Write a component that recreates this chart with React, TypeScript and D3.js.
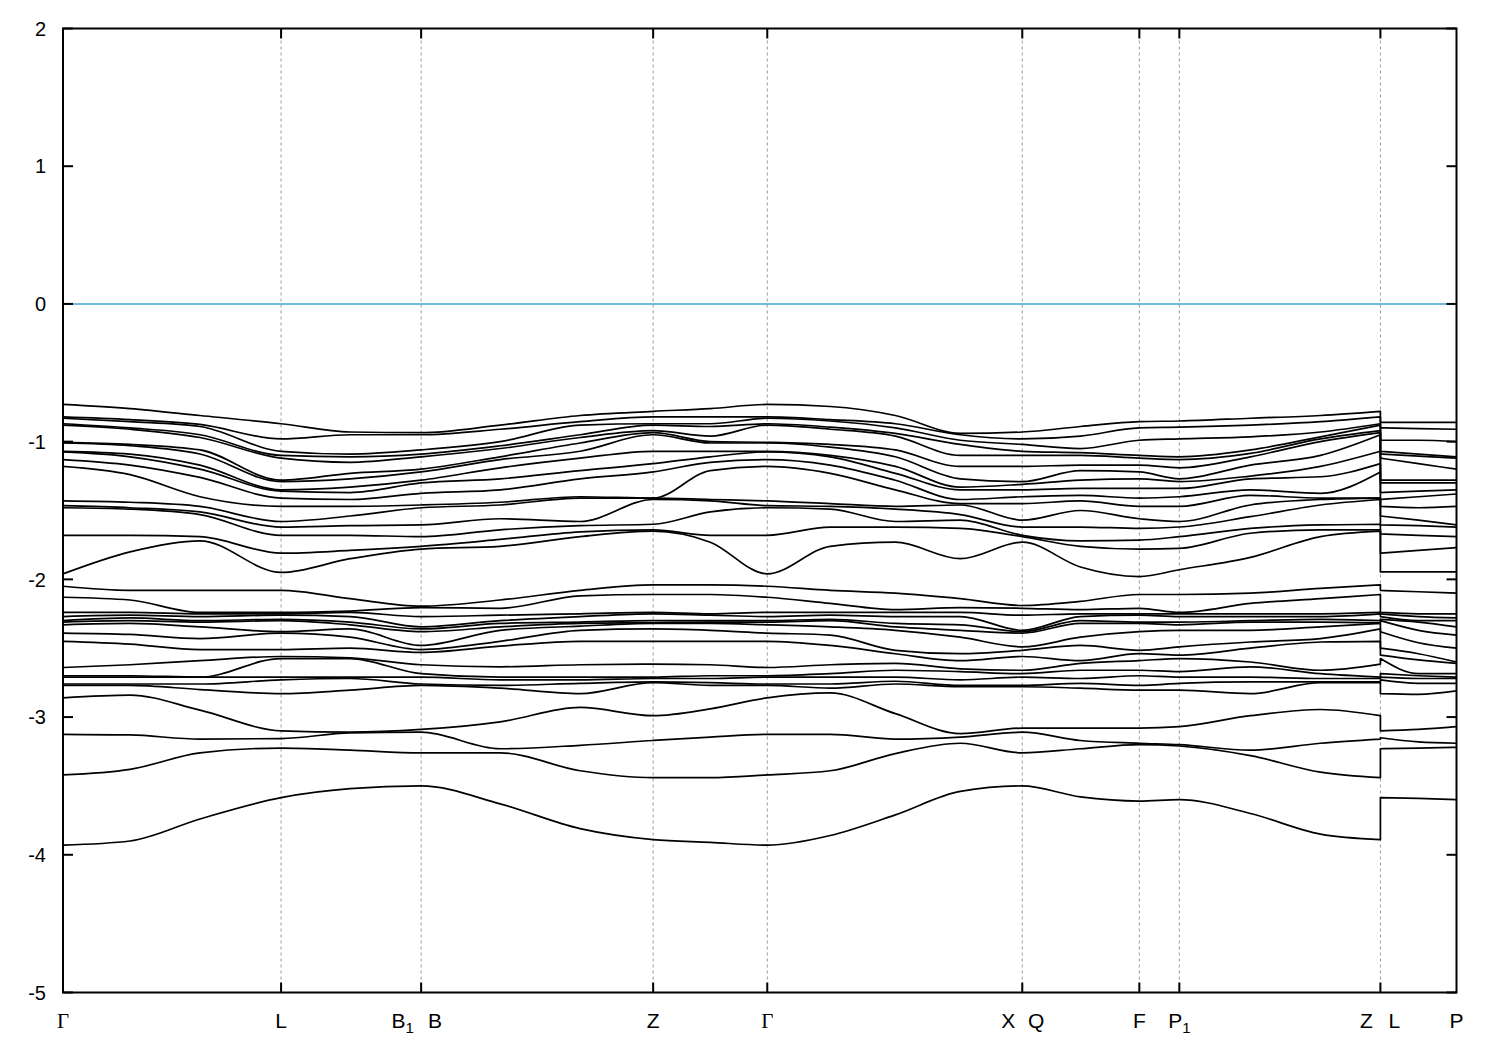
import React from "react";
import * as d3 from "d3";

// k-path positions (fraction of total path length)
const kColumns = [0, 0.0481, 0.0983, 0.1565, 0.206, 0.257, 0.3137, 0.3711, 0.4235, 0.4645, 0.5054, 0.5506, 0.5973, 0.6439, 0.6884, 0.7301, 0.7724, 0.8011, 0.8521, 0.9024, 0.9454];
const kColumnsLP = [0.9454, 0.9727, 1.0];

const kPoints = [0, 0.1565, 0.257, 0.4235, 0.5054, 0.6884, 0.7724, 0.8011, 0.9454, 1.0];
const kLabels = ["Γ", "L", "B_1|B", "Z", "Γ", "X|Q", "F", "P_1", "Z|L", "P"];

const yTicks = [-5, -4, -3, -2, -1, 0, 1, 2];
const fermiLevel = 0;

// Upper band group (energies in eV), one row per k column, 16 bands each
const upperGroup = [
  [-0.73, -0.82, -0.83, -0.87, -0.88, -1.005, -1.01, -1.07, -1.075, -1.13, -1.18, -1.43, -1.465, -1.48, -1.68, -1.96],
  [-0.76, -0.84, -0.855, -0.9, -0.91, -1.02, -1.03, -1.09, -1.11, -1.17, -1.24, -1.44, -1.48, -1.49, -1.68, -1.8],
  [-0.81, -0.875, -0.89, -0.95, -0.97, -1.06, -1.09, -1.17, -1.2, -1.26, -1.4, -1.47, -1.51, -1.53, -1.69, -1.72],
  [-0.87, -0.98, -1.07, -1.1, -1.12, -1.28, -1.29, -1.35, -1.36, -1.41, -1.47, -1.58, -1.62, -1.68, -1.81, -1.95],
  [-0.93, -0.95, -1.09, -1.11, -1.15, -1.23, -1.27, -1.33, -1.37, -1.42, -1.47, -1.54, -1.61, -1.68, -1.79, -1.85],
  [-0.935, -0.95, -1.06, -1.09, -1.11, -1.2, -1.22, -1.28, -1.3, -1.375, -1.46, -1.48, -1.605, -1.69, -1.76, -1.78],
  [-0.88, -0.91, -1.0, -1.03, -1.05, -1.11, -1.13, -1.19, -1.27, -1.35, -1.44, -1.46, -1.56, -1.64, -1.71, -1.76],
  [-0.81, -0.855, -0.88, -0.95, -0.97, -1.01, -1.07, -1.12, -1.21, -1.27, -1.4, -1.41, -1.58, -1.61, -1.655, -1.69],
  [-0.78, -0.82, -0.87, -0.88, -0.92, -0.935, -0.95, -1.07, -1.16, -1.22, -1.41, -1.41, -1.42, -1.6, -1.64, -1.65],
  [-0.76, -0.82, -0.87, -0.89, -0.96, -1.0, -1.01, -1.07, -1.11, -1.15, -1.21, -1.42, -1.43, -1.51, -1.68, -1.73],
  [-0.73, -0.82, -0.83, -0.87, -0.88, -1.005, -1.01, -1.07, -1.075, -1.13, -1.18, -1.43, -1.465, -1.48, -1.68, -1.96],
  [-0.745, -0.84, -0.85, -0.895, -0.91, -1.02, -1.04, -1.1, -1.11, -1.17, -1.23, -1.45, -1.47, -1.49, -1.62, -1.76],
  [-0.81, -0.87, -0.9, -0.94, -0.96, -1.06, -1.11, -1.18, -1.23, -1.28, -1.35, -1.47, -1.49, -1.58, -1.62, -1.73],
  [-0.94, -0.95, -0.99, -1.02, -1.1, -1.18, -1.27, -1.33, -1.35, -1.42, -1.45, -1.46, -1.53, -1.57, -1.63, -1.85],
  [-0.93, -0.98, -1.02, -1.07, -1.1, -1.18, -1.29, -1.31, -1.35, -1.4, -1.45, -1.57, -1.62, -1.68, -1.69, -1.73],
  [-0.89, -0.96, -1.05, -1.08, -1.1, -1.17, -1.21, -1.28, -1.34, -1.39, -1.43, -1.5, -1.62, -1.72, -1.76, -1.91],
  [-0.855, -0.9, -0.99, -1.1, -1.12, -1.17, -1.22, -1.27, -1.34, -1.41, -1.47, -1.56, -1.63, -1.715, -1.78, -1.98],
  [-0.85, -0.895, -0.98, -1.11, -1.13, -1.19, -1.27, -1.29, -1.34, -1.4, -1.47, -1.58, -1.62, -1.69, -1.775, -1.93],
  [-0.83, -0.88, -0.965, -1.06, -1.085, -1.11, -1.17, -1.25, -1.27, -1.35, -1.39, -1.46, -1.545, -1.63, -1.665, -1.84],
  [-0.81, -0.855, -0.93, -0.965, -0.98, -1.0, -1.1, -1.18, -1.255, -1.375, -1.41, -1.42, -1.46, -1.605, -1.64, -1.69],
  [-0.78, -0.82, -0.87, -0.88, -0.92, -0.935, -0.95, -1.07, -1.16, -1.22, -1.41, -1.41, -1.42, -1.6, -1.64, -1.65],
];
const upperGroupLP = [
  [-0.86, -0.9, -0.99, -1.07, -1.09, -1.12, -1.28, -1.3, -1.37, -1.42, -1.47, -1.54, -1.605, -1.67, -1.81, -1.945],
  [-0.86, -0.905, -0.99, -1.09, -1.105, -1.16, -1.28, -1.3, -1.36, -1.4, -1.48, -1.57, -1.61, -1.68, -1.79, -1.945],
  [-0.86, -0.91, -1.0, -1.11, -1.12, -1.2, -1.28, -1.3, -1.35, -1.38, -1.47, -1.605, -1.62, -1.69, -1.77, -1.945],
];

// Middle/lower band group, 17 bands each
const lowerGroup = [
  [-2.05, -2.13, -2.24, -2.27, -2.3, -2.31, -2.33, -2.39, -2.45, -2.64, -2.7, -2.71, -2.76, -2.77, -2.86, -3.125, -3.42],
  [-2.08, -2.15, -2.24, -2.26, -2.28, -2.3, -2.32, -2.4, -2.47, -2.62, -2.7, -2.71, -2.76, -2.77, -2.84, -3.13, -3.38],
  [-2.08, -2.24, -2.25, -2.27, -2.3, -2.31, -2.345, -2.43, -2.51, -2.59, -2.71, -2.71, -2.76, -2.8, -2.95, -3.16, -3.26],
  [-2.08, -2.24, -2.25, -2.26, -2.29, -2.3, -2.38, -2.39, -2.51, -2.56, -2.575, -2.71, -2.73, -2.83, -3.1, -3.156, -3.225],
  [-2.14, -2.23, -2.24, -2.27, -2.31, -2.33, -2.36, -2.42, -2.5, -2.57, -2.575, -2.71, -2.72, -2.805, -3.11, -3.115, -3.24],
  [-2.195, -2.205, -2.27, -2.345, -2.36, -2.38, -2.48, -2.51, -2.53, -2.62, -2.685, -2.71, -2.76, -2.77, -3.09, -3.11, -3.26],
  [-2.15, -2.21, -2.26, -2.3, -2.32, -2.345, -2.37, -2.45, -2.485, -2.635, -2.71, -2.73, -2.77, -2.79, -3.035, -3.23, -3.26],
  [-2.08, -2.12, -2.25, -2.27, -2.31, -2.32, -2.34, -2.37, -2.45, -2.62, -2.71, -2.73, -2.755, -2.83, -2.93, -3.205, -3.39],
  [-2.04, -2.11, -2.24, -2.25, -2.3, -2.315, -2.32, -2.36, -2.45, -2.615, -2.71, -2.72, -2.745, -2.75, -2.99, -3.17, -3.44],
  [-2.04, -2.11, -2.25, -2.26, -2.3, -2.31, -2.32, -2.37, -2.45, -2.62, -2.7, -2.72, -2.75, -2.77, -2.94, -3.145, -3.44],
  [-2.05, -2.13, -2.24, -2.27, -2.3, -2.31, -2.33, -2.39, -2.45, -2.64, -2.7, -2.71, -2.76, -2.77, -2.86, -3.125, -3.42],
  [-2.08, -2.175, -2.24, -2.26, -2.29, -2.3, -2.345, -2.405, -2.48, -2.62, -2.685, -2.71, -2.76, -2.79, -2.825, -3.125, -3.39],
  [-2.1, -2.22, -2.24, -2.27, -2.32, -2.345, -2.37, -2.515, -2.54, -2.61, -2.66, -2.71, -2.74, -2.76, -2.975, -3.16, -3.265],
  [-2.14, -2.205, -2.24, -2.27, -2.33, -2.37, -2.42, -2.54, -2.59, -2.65, -2.67, -2.73, -2.77, -2.78, -3.12, -3.145, -3.19],
  [-2.19, -2.21, -2.26, -2.37, -2.38, -2.39, -2.49, -2.515, -2.56, -2.66, -2.685, -2.71, -2.77, -2.78, -3.08, -3.11, -3.26],
  [-2.16, -2.22, -2.25, -2.27, -2.3, -2.32, -2.42, -2.48, -2.59, -2.61, -2.66, -2.72, -2.755, -2.79, -3.08, -3.17, -3.23],
  [-2.11, -2.21, -2.25, -2.26, -2.31, -2.32, -2.38, -2.515, -2.54, -2.59, -2.66, -2.7, -2.77, -2.805, -3.08, -3.19, -3.2],
  [-2.11, -2.24, -2.25, -2.27, -2.31, -2.33, -2.37, -2.49, -2.55, -2.575, -2.67, -2.71, -2.755, -2.805, -3.07, -3.2, -3.21],
  [-2.1, -2.175, -2.25, -2.27, -2.3, -2.31, -2.37, -2.455, -2.5, -2.6, -2.635, -2.71, -2.745, -2.83, -2.99, -3.24, -3.28],
  [-2.065, -2.14, -2.25, -2.27, -2.29, -2.31, -2.345, -2.43, -2.455, -2.66, -2.685, -2.72, -2.745, -2.75, -2.945, -3.19, -3.4],
  [-2.04, -2.11, -2.24, -2.25, -2.3, -2.315, -2.32, -2.36, -2.45, -2.615, -2.71, -2.72, -2.745, -2.75, -2.99, -3.16, -3.44],
];
const lowerGroupLP = [
  [-2.08, -2.24, -2.25, -2.27, -2.29, -2.3, -2.38, -2.5, -2.55, -2.575, -2.685, -2.71, -2.73, -2.83, -3.1, -3.15, -3.23],
  [-2.09, -2.25, -2.27, -2.3, -2.31, -2.37, -2.46, -2.54, -2.585, -2.685, -2.7, -2.72, -2.755, -2.835, -3.09, -3.18, -3.225],
  [-2.1, -2.25, -2.28, -2.3, -2.345, -2.405, -2.5, -2.6, -2.61, -2.685, -2.71, -2.72, -2.755, -2.81, -3.07, -3.19, -3.22],
];

// Deepest band
const deepBand = [-3.93, -3.9, -3.74, -3.585, -3.52, -3.5, -3.63, -3.81, -3.89, -3.91, -3.93, -3.86, -3.71, -3.54, -3.5, -3.58, -3.61, -3.6, -3.7, -3.85, -3.89];
const deepBandLP = [-3.585, -3.59, -3.6];

const W = 1500;
const H = 1050;
const LEFT = 63;
const RIGHT = 1456.5;
const TOP = 28.5;
const BOTTOM = 992.5;

function bandsFrom(cols: number[][]): number[][] {
  const n = d3.min(cols, (c) => c.length) ?? 0;
  return d3.range(n).map((i) => cols.map((c) => c[i]));
}

function Label({ x, y, text }: { x: number; y: number; text: string }) {
  const isGamma = text === "Γ";
  const parts = text.split("_1");
  return (
    <text
      x={x}
      y={y}
      textAnchor="middle"
      fontFamily={isGamma ? "Liberation Serif, DejaVu Serif, serif" : "Liberation Sans, Arial, sans-serif"}
      fontSize={21}
      fill="#000"
    >
      {parts[0]}
      {parts.length > 1 && (
        <>
          <tspan fontSize={15} dy={5}>1</tspan>
          <tspan dy={-5}>{parts[1]}</tspan>
        </>
      )}
    </text>
  );
}

export default function App() {
  const x = d3.scaleLinear().domain([0, 1]).range([LEFT, RIGHT]);
  const y = d3.scaleLinear().domain([-5, 2]).range([BOTTOM, TOP]);

  const line = d3
    .line<[number, number]>()
    .x((d) => x(d[0]))
    .y((d) => y(d[1]))
    .curve(d3.curveMonotoneX);

  const mkPath = (main: number[], lp: number[]) => {
    const a = line(main.map((v, i) => [kColumns[i], v] as [number, number])) || "";
    const b = line(lp.map((v, i) => [kColumnsLP[i], v] as [number, number])) || "";
    return a + b.replace(/^M/, "L");
  };

  const upper = bandsFrom(upperGroup);
  const upperLP = bandsFrom(upperGroupLP);
  const lower = bandsFrom(lowerGroup);
  const lowerLP = bandsFrom(lowerGroupLP);

  const paths: string[] = [];
  upper.forEach((b, i) => paths.push(mkPath(b, upperLP[i])));
  lower.forEach((b, i) => paths.push(mkPath(b, lowerLP[i])));
  paths.push(mkPath(deepBand, deepBandLP));

  const interior = kPoints.filter((k) => k > 0 && k < 1);

  return (
    <svg
      width={W}
      height={H}
      viewBox={`0 0 ${W} ${H}`}
      style={{ position: "absolute", left: 0, top: 0, background: "#fff" }}
    >
      <rect x={0} y={0} width={W} height={H} fill="#fff" />
      {/* grid */}
      {interior.map((k, i) => (
        <line
          key={"g" + i}
          x1={x(k)}
          x2={x(k)}
          y1={TOP}
          y2={BOTTOM}
          stroke="#999"
          strokeWidth={1}
          strokeDasharray="3,3"
        />
      ))}
      {/* Fermi level */}
      <line x1={LEFT} x2={RIGHT} y1={y(fermiLevel)} y2={y(fermiLevel)} stroke="#3fa3dc" strokeWidth={1.5} />
      {/* bands */}
      <g fill="none" stroke="#000" strokeWidth={1.7} strokeLinejoin="round">
        {paths.map((p, i) => (
          <path key={"b" + i} d={p} />
        ))}
      </g>
      {/* frame */}
      <rect x={LEFT} y={TOP} width={RIGHT - LEFT} height={BOTTOM - TOP} fill="none" stroke="#000" strokeWidth={2} />
      {/* y ticks */}
      {yTicks.map((t) => (
        <g key={"y" + t}>
          <line x1={LEFT} x2={LEFT + 10} y1={y(t)} y2={y(t)} stroke="#000" strokeWidth={2} />
          <line x1={RIGHT - 10} x2={RIGHT} y1={y(t)} y2={y(t)} stroke="#000" strokeWidth={2} />
          <text
            x={46}
            y={y(t)}
            dy="0.36em"
            textAnchor="end"
            fontFamily="Liberation Sans, Arial, sans-serif"
            fontSize={20}
            fill="#000"
          >
            {String(t)}
          </text>
        </g>
      ))}
      {/* x ticks */}
      {interior.map((k, i) => (
        <g key={"xt" + i}>
          <line x1={x(k)} x2={x(k)} y1={BOTTOM} y2={BOTTOM - 10} stroke="#000" strokeWidth={2} />
          <line x1={x(k)} x2={x(k)} y1={TOP} y2={TOP + 10} stroke="#000" strokeWidth={2} />
        </g>
      ))}
      {/* x labels */}
      {kPoints.map((k, i) => {
        const lab = kLabels[i];
        const px = x(k);
        const ly = 1028;
        if (lab.includes("|")) {
          const [l, r] = lab.split("|");
          const lw = l.includes("_1") ? 23 : 14;
          return (
            <g key={"xl" + i}>
              <Label x={px - 7 - lw / 2} y={ly} text={l} />
              <Label x={px + 14} y={ly} text={r} />
            </g>
          );
        }
        return <Label key={"xl" + i} x={px} y={ly} text={lab} />;
      })}
    </svg>
  );
}
